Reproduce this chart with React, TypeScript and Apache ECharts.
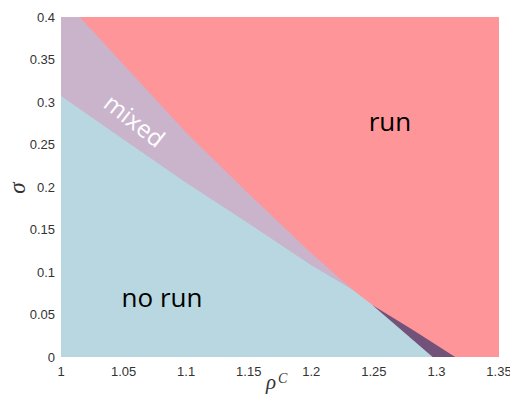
import React, { useEffect, useRef } from 'react';
import * as echarts from 'echarts';

// Region boundaries (x = rho^C, y = sigma)
const runRegionX = [1, 1.35];
const runRegionY = [0.4, 0.4];

const mixedX = [1, 1.015, 1.05, 1.1, 1.15, 1.2, 1.233, 1.249];
const mixedY = [0.4, 0.4, 0.344, 0.264, 0.192, 0.122, 0.079, 0.061];

const darkX = [1.249, 1.28, 1.315];
const darkY = [0.061, 0.033, 0];

const noRunX = [1, 1.05, 1.1, 1.15, 1.2, 1.233, 1.249, 1.297];
const noRunY = [0.307, 0.256, 0.205, 0.157, 0.108, 0.079, 0.061, 0];

const regionLabels = ['run', 'mixed', 'no run'];
const xAxisTitle = ['ρ', 'C'];
const yAxisTitle = 'σ';

const colors = {
  run: '#fe9598',
  mixed: '#c9b4cc',
  noRun: '#b9d7e0',
  dark: '#735279',
};

const zip = (xs: number[], ys: number[]) => xs.map((x, i) => [x, ys[i]]);

const areaSeries = (name: string, xs: number[], ys: number[], color: string, z: number) => ({
  name,
  type: 'line',
  data: zip(xs, ys),
  showSymbol: false,
  symbol: 'none',
  silent: true,
  z,
  lineStyle: { width: 0, opacity: 0 },
  areaStyle: { color, opacity: 1 },
  emphasis: { disabled: true },
});

const serif = 'Liberation Serif, DejaVu Serif, serif';

export default function App() {
  const ref = useRef<HTMLDivElement>(null);
  useEffect(() => {
    if (!ref.current) return;
    const chart = echarts.init(ref.current, undefined, { renderer: 'svg' });
    const fmt = (v: number) => String(Number(v.toFixed(2)));
    chart.setOption({
      animation: false,
      grid: { left: 61, right: 11, top: 17, bottom: 46, containLabel: false, outerBoundsMode: 'none' },
      xAxis: {
        type: 'value',
        min: 1,
        max: 1.35,
        interval: 0.05,
        axisLine: { show: false },
        axisTick: { show: false },
        splitLine: { show: false },
        axisLabel: {
          formatter: fmt,
          color: '#333',
          fontSize: 13,
          fontFamily: 'Liberation Sans, Arial, sans-serif',
          margin: 8,
        },
      },
      yAxis: {
        type: 'value',
        min: 0,
        max: 0.4,
        interval: 0.05,
        axisLine: { show: false },
        axisTick: { show: false },
        splitLine: { show: false },
        axisLabel: {
          formatter: fmt,
          color: '#333',
          fontSize: 13,
          fontFamily: 'Liberation Sans, Arial, sans-serif',
          margin: 6,
        },
      },
      series: [
        areaSeries('run', runRegionX, runRegionY, colors.run, 1),
        areaSeries('mixed', mixedX, mixedY, colors.mixed, 2),
        areaSeries('dark', darkX, darkY, colors.dark, 3),
        areaSeries('no run', noRunX, noRunY, colors.noRun, 4),
      ],
      graphic: [
        {
          type: 'text',
          x: 390,
          y: 121,
          z: 10,
          style: {
            text: regionLabels[0],
            fontSize: 26,
            fontFamily: 'Open Sans, sans-serif',
            fill: '#000',
            textAlign: 'center',
            textVerticalAlign: 'middle',
          },
        },
        {
          type: 'text',
          x: 135,
          y: 120,
          z: 10,
          rotation: (-38 * Math.PI) / 180,
          style: {
            text: regionLabels[1],
            fontSize: 24,
            fontFamily: 'Open Sans, sans-serif',
            fill: '#fff',
            textAlign: 'center',
            textVerticalAlign: 'middle',
          },
        },
        {
          type: 'text',
          x: 162,
          y: 297,
          z: 10,
          style: {
            text: regionLabels[2],
            fontSize: 26,
            fontFamily: 'Open Sans, sans-serif',
            fill: '#000',
            textAlign: 'center',
            textVerticalAlign: 'middle',
          },
        },
        {
          type: 'text',
          x: 271,
          y: 382,
          z: 10,
          style: {
            text: xAxisTitle[0],
            fontSize: 21,
            fontStyle: 'italic',
            fontFamily: serif,
            fill: '#333',
            textAlign: 'center',
            textVerticalAlign: 'middle',
          },
        },
        {
          type: 'text',
          x: 278,
          y: 378,
          z: 10,
          style: {
            text: xAxisTitle[1],
            fontSize: 14,
            fontStyle: 'italic',
            fontFamily: serif,
            fill: '#333',
            textAlign: 'left',
            textVerticalAlign: 'middle',
          },
        },
        {
          type: 'text',
          x: 17,
          y: 188,
          z: 10,
          rotation: Math.PI / 2,
          style: {
            text: yAxisTitle,
            fontSize: 23,
            fontStyle: 'italic',
            fontFamily: serif,
            fill: '#333',
            textAlign: 'center',
            textVerticalAlign: 'middle',
          },
        },
      ],
    });
    return () => chart.dispose();
  }, []);
  return (
    <div
      ref={ref}
      style={{ position: 'fixed', left: 0, top: 0, width: 510, height: 403, background: '#fff' }}
    />
  );
}
